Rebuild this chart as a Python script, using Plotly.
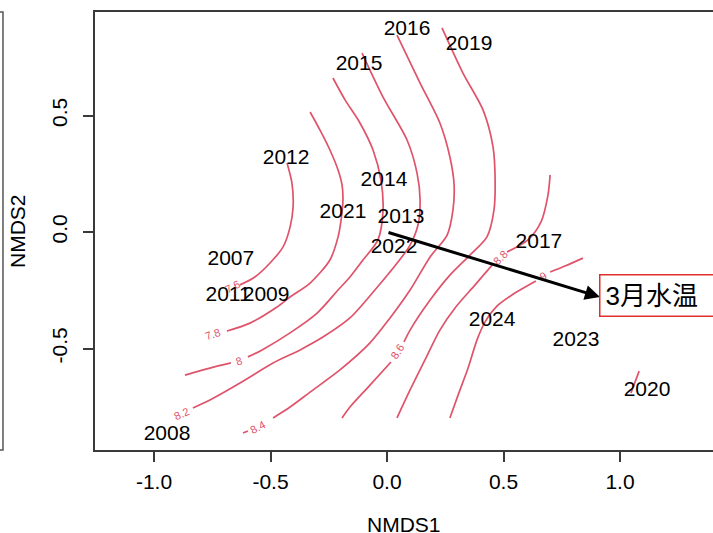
import plotly.graph_objects as go

# ---- site scores (year labels) ----
years = ["2016", "2019", "2015", "2012", "2014", "2021", "2013", "2022",
         "2017", "2007", "2011", "2009", "2008", "2024", "2023", "2020"]
nmds1 = [0.086, 0.352, -0.120, -0.433, -0.013, -0.189, 0.060, 0.030,
         0.652, -0.670, -0.682, -0.519, -0.944, 0.451, 0.811, 1.116]
nmds2 = [0.867, 0.803, 0.717, 0.313, 0.219, 0.082, 0.060, -0.069,
         -0.047, -0.120, -0.275, -0.275, -0.871, -0.382, -0.468, -0.682]

# ---- envfit vector (3月水温) ----
vec_label = "3月水温"
vec_x = 0.914
vec_y = -0.279

# ---- ordisurf contour lines (None = gap for label) ----
c76_x = [-0.429, -0.408, -0.403, -0.416, -0.446, -0.502, -0.567, -0.631]
c76_y = [0.296, 0.210, 0.107, 0.021, -0.064, -0.133, -0.193, -0.227]

c78_x = [-0.330, -0.288, -0.245, -0.210, -0.193, -0.189, -0.197, -0.210,
         -0.245, -0.330, -0.416, -0.472, -0.588, -0.687]
c78_y = [0.515, 0.438, 0.352, 0.266, 0.202, 0.137, 0.052, -0.021,
         -0.120, -0.219, -0.279, -0.322, -0.391, -0.425]

c80_x = [-0.232, -0.180, -0.116, -0.060, -0.026, -0.017, -0.039, -0.103,
         -0.159, -0.210, -0.300, -0.416, -0.536, -0.597, None,
         -0.670, -0.760, -0.867]
c80_y = [0.661, 0.567, 0.468, 0.352, 0.223, 0.094, -0.034, -0.120,
         -0.193, -0.249, -0.348, -0.433, -0.506, -0.536, None,
         -0.562, -0.584, -0.614]

c82_x = [-0.107, -0.017, 0.086, 0.129, 0.142, 0.133, 0.099, 0.047,
         -0.052, -0.159, -0.275, -0.373, -0.489, -0.631, -0.760, -0.833]
c82_y = [0.768, 0.579, 0.395, 0.253, 0.137, 0.030, -0.056, -0.129,
         -0.249, -0.369, -0.451, -0.506, -0.562, -0.648, -0.721, -0.755]

c84_x = [0.043, 0.142, 0.227, 0.270, 0.288, 0.283, 0.258, 0.185,
         0.099, 0.013, -0.073, -0.202, -0.330, -0.416, -0.489, None,
         -0.597, -0.618]
c84_y = [0.845, 0.639, 0.468, 0.322, 0.202, 0.094, -0.013, -0.107,
         -0.249, -0.369, -0.476, -0.592, -0.687, -0.751, -0.798, None,
         -0.854, -0.863]

c86_x = [0.236, 0.326, 0.412, 0.455, 0.464, 0.459, 0.429, 0.356,
         0.270, 0.185, 0.099, 0.073, None, 0.017, -0.073, -0.159, -0.193]
c86_y = [0.876, 0.682, 0.524, 0.365, 0.223, 0.094, -0.021, -0.099,
         -0.185, -0.292, -0.421, -0.472, None, -0.558, -0.657, -0.751, -0.798]

c88_x = [0.700, 0.691, 0.661, 0.605, 0.515, None, 0.451, 0.378, 0.292,
         0.227, 0.163, 0.099, 0.043]
c88_y = [0.245, 0.159, 0.043, -0.034, -0.086, None, -0.142, -0.227, -0.326,
         -0.421, -0.549, -0.678, -0.798]

c90_x = [0.841, 0.764, 0.700, None, 0.639, 0.549, 0.472, 0.421, 0.386,
         0.348, 0.305, 0.270]
c90_y = [-0.112, -0.146, -0.172, None, -0.210, -0.262, -0.318, -0.386,
         -0.464, -0.584, -0.700, -0.798]

c96_x = [1.082, 1.047]
c96_y = [-0.597, -0.691]

contours = [(c76_x, c76_y), (c78_x, c78_y), (c80_x, c80_y), (c82_x, c82_y),
            (c84_x, c84_y), (c86_x, c86_y), (c88_x, c88_y), (c90_x, c90_y),
            (c96_x, c96_y)]

# contour labels: text, position, angle
level_text = ["7.6", "7.8", "8", "8.2", "8.4", "8.6", "8.8", "9"]
level_x = [-0.665, -0.747, -0.635, -0.884, -0.554, 0.043, 0.485, 0.670]
level_y = [-0.236, -0.438, -0.554, -0.781, -0.837, -0.515, -0.112, -0.189]
level_ang = [-28, -19, -18, -25, -28, -57, -45, -33]

RED = "#DF536B"
AXC = "#3a3a3a"
FONT = "Liberation Sans, Arial, sans-serif"

fig = go.Figure()
for cx, cy in contours:
    fig.add_trace(go.Scatter(x=cx, y=cy, mode="lines",
                             line=dict(color=RED, width=1.7, shape="spline",
                                       smoothing=0.8),
                             hoverinfo="skip", showlegend=False))

fig.add_trace(go.Scatter(x=nmds1, y=nmds2, mode="text", text=years,
                         textposition="middle center",
                         textfont=dict(size=21, family=FONT, color="black"),
                         hoverinfo="skip", showlegend=False))

ann = []
for t, x, y, a in zip(level_text, level_x, level_y, level_ang):
    ann.append(dict(x=x, y=y, xref="x", yref="y", text=t, showarrow=False,
                    textangle=a, font=dict(size=11, color=RED, family=FONT)))

# arrow
ann.append(dict(x=vec_x, y=vec_y, ax=0, ay=0, xref="x", yref="y",
                axref="x", ayref="y", text="", showarrow=True,
                arrowhead=2, arrowsize=1, arrowwidth=3, arrowcolor="black"))
# vector label box
ann.append(dict(x=0.910, y=-0.273, xref="x", yref="y", text=vec_label,
                showarrow=False, xanchor="left", yanchor="middle",
                width=122, align="left",
                font=dict(size=26, color="black",
                          family="Liberation Sans, Noto Sans CJK SC, sans-serif"),
                bgcolor="white", bordercolor="#E0302A", borderwidth=1.5,
                borderpad=5))
# axis titles
ann.append(dict(x=0.5, y=0, xref="paper", yref="paper", text="NMDS1",
                showarrow=False, yshift=-74, xanchor="center", yanchor="middle",
                font=dict(size=21, color="black", family=FONT)))
ann.append(dict(x=0, y=0.5, xref="paper", yref="paper", text="NMDS2",
                showarrow=False, xshift=-78, xanchor="center", yanchor="middle",
                textangle=-90, font=dict(size=21, color="black", family=FONT)))

fig.update_layout(
    width=713, height=533,
    margin=dict(l=95, r=0, t=12, b=83),
    paper_bgcolor="white", plot_bgcolor="white",
    annotations=ann,
    shapes=[dict(type="path", xref="paper", yref="paper",
                 path="M -0.1537,1 L -0.1489,1 L -0.1489,0 L -0.1537,0",
                 line=dict(color="#555555", width=1.5))],
)
fig.update_xaxes(range=[-1.2532, 1.3991], tickvals=[-1, -0.5, 0, 0.5, 1],
                 ticktext=["-1.0", "-0.5", "0.0", "0.5", "1.0"],
                 ticks="outside", ticklen=10, tickwidth=1.5, tickcolor=AXC,
                 showline=True, linecolor=AXC, linewidth=1.5, mirror=True,
                 showgrid=False, zeroline=False, ticklabelstandoff=2,
                 tickfont=dict(size=21, family=FONT, color="black"))
fig.update_yaxes(range=[-0.9356, 0.9442], tickvals=[-0.5, 0, 0.5],
                 ticktext=["-0.5", "0.0", "0.5"], tickangle=-90,
                 ticks="outside", ticklen=10, tickwidth=1.5, tickcolor=AXC,
                 showline=True, linecolor=AXC, linewidth=1.5,
                 showgrid=False, zeroline=False, ticklabelstandoff=8,
                 tickfont=dict(size=21, family=FONT, color="black"))

fig.write_html("out.html", config={"displayModeBar": False},
               post_script="document.body.style.margin='0';")
